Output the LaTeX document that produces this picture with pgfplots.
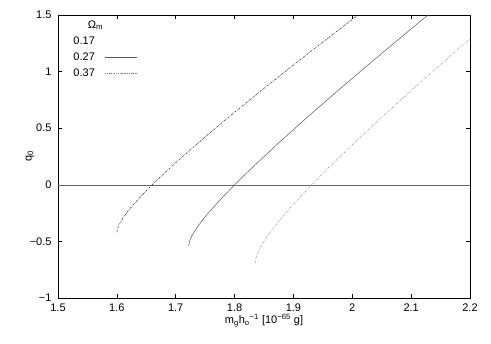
\documentclass[border=0pt]{standalone}
\usepackage{fontspec}
\setmainfont{Liberation Sans}
\usepackage{pgfplots}
\pgfplotsset{compat=1.18}
\usetikzlibrary{calc}

\begin{document}
\begin{tikzpicture}
\begin{axis}[
  scale only axis, width=412pt, height=283pt,
  xmin=1.5, xmax=2.2, ymin=-1, ymax=1.5,
  xtick={1.5,1.6,...,2.2},
  xticklabels={1.5,1.6,1.7,1.8,1.9,2,2.1,2.2},
  ytick={-1,-0.5,0,0.5,1,1.5},
  yticklabels={−1,−0.5,0,0.5,1,1.5},
  tick align=inside, major tick length=4pt,
  tick style={black, line width=0.5pt},
  axis line style={black, line width=0.6pt},
  font=\fontsize{11}{13}\selectfont,
  xticklabel style={yshift=-2pt},
  yticklabel style={xshift=-3pt},
  xlabel={m\textsubscript{g}h\textsubscript{o}\textsuperscript{−1} [10\textsuperscript{−65} g]},
  ylabel={q\textsubscript{0}},
  xlabel style={yshift=4pt},
  ylabel style={yshift=-11pt},
  legend style={draw=none, fill=none, at={(0.025,0.995)}, anchor=north west,
                font=\fontsize{11}{13}\selectfont, row sep=3pt},
  legend cell align=left, legend plot pos=right,
  legend image code/.code={\draw[#1, overlay] (0pt,0pt) -- (32pt,0pt);},
]
\coordinate (bl) at (rel axis cs:0,0);
\coordinate (tr) at (rel axis cs:1,1);
\addlegendimage{empty legend}
\addlegendentry{\hspace{1.3em}Ω\textsubscript{m}}
\addlegendimage{opacity=0}
\addlegendentry{0.17}
\addlegendimage{black!65, line width=0.5pt}
\addlegendentry{0.27}
\addlegendimage{black!45, line width=0.5pt, dash pattern=on 1.5pt off 1pt on 0.5pt off 1pt on 0.5pt off 1pt}
\addlegendentry{0.37}

\addplot[forget plot, black!60, line width=0.5pt] coordinates {(1.5,0)(2.2,0)};

% Omega_m = 0.17
\addplot[forget plot, black!85, line width=0.5pt, dash pattern=on 2pt off 1pt on 0.6pt off 1pt]
  coordinates {(1.600,-0.420)(1.602,-0.373)(1.605,-0.339)(1.610,-0.296)(1.620,-0.225)
  (1.630,-0.164)(1.650,-0.052)(1.660,0.000)(1.675,0.075)(1.700,0.195)(1.750,0.423)
  (1.800,0.641)(1.850,0.852)(1.900,1.058)(1.950,1.261)(2.000,1.461)(2.010,1.500)};

% Omega_m = 0.27
\addplot[forget plot, black!65, line width=0.5pt]
  coordinates {(1.722,-0.540)(1.724,-0.491)(1.727,-0.455)(1.732,-0.410)(1.742,-0.336)
  (1.752,-0.270)(1.772,-0.152)(1.800,0.000)(1.822,0.112)(1.872,0.356)(1.922,0.590)
  (1.972,0.816)(2.022,1.038)(2.072,1.256)(2.122,1.472)(2.129,1.500)};

% Omega_m = 0.37
\addplot[forget plot, black!45, line width=0.5pt, dash pattern=on 1.5pt off 1pt on 0.5pt off 1pt on 0.5pt off 1pt]
  coordinates {(1.835,-0.690)(1.837,-0.633)(1.840,-0.593)(1.845,-0.542)(1.855,-0.460)
  (1.865,-0.389)(1.885,-0.261)(1.910,-0.115)(1.931,0.000)(1.960,0.152)(2.000,0.354)
  (2.050,0.597)(2.100,0.833)(2.150,1.063)(2.200,1.290)};
\end{axis}
\pgfresetboundingbox
\useasboundingbox ($(bl)+(-58pt,-46pt)$) rectangle ($(tr)+(21pt,15pt)$);
\end{tikzpicture}
\end{document}
